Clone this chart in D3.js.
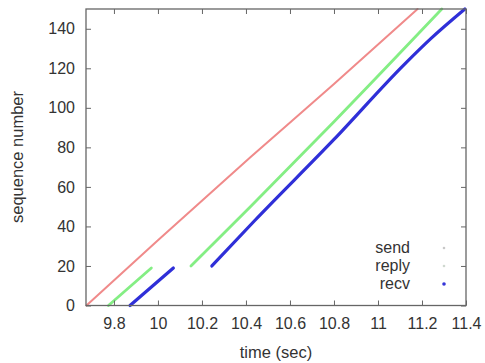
<!DOCTYPE html>
<html><head><meta charset="utf-8">
<script src="https://cdn.jsdelivr.net/npm/d3@7"></script>
<style>body{margin:0;background:#fff}svg{display:block}text{font-family:"Liberation Sans",Arial,sans-serif;fill:#333}</style>
</head><body><svg id="c" width="485" height="363"></svg>
<script>
const xTicks = [9.8, 10, 10.2, 10.4, 10.6, 10.8, 11, 11.2, 11.4];
const xTickLabels = ["9.8", "10", "10.2", "10.4", "10.6", "10.8", "11", "11.2", "11.4"];
const yTicks = [0, 20, 40, 60, 80, 100, 120, 140];
const seriesNames = ["send", "reply", "recv"];
// send
const sendTime = [9.675, 10.0, 10.42, 10.8, 11.18];
const sendSeq  = [0, 33, 75, 112, 150];
// reply (two segments)
const replyTime1 = [9.775, 9.97];
const replySeq1  = [0, 19];
const replyTime2 = [10.15, 10.42, 10.8, 11.29];
const replySeq2  = [20, 50, 93, 150];
// recv (two segments)
const recvTime1 = [9.873, 10.07];
const recvSeq1  = [0, 19];
const recvTime2 = [10.245, 10.44, 10.8, 11.12, 11.24, 11.395];
const recvSeq2  = [20, 43, 84, 122, 135, 150];

const svg = d3.select("#c");
const L = 86, R = 466, T = 9, B = 305.5;
const x = d3.scaleLinear().domain([9.673, 11.4]).range([L, R]);
const y = d3.scaleLinear().domain([0, 150]).range([B, T]);
const frame = "#666";

const zip = (t, s) => t.map((v, i) => [v, s[i]]);
const line = d3.line().x(d => x(d[0])).y(d => y(d[1])).curve(d3.curveMonotoneX);
const segs = [
  {d: zip(sendTime, sendSeq), c: "#f08a8a", w: 2},
  {d: zip(replyTime1, replySeq1), c: "#84ee84", w: 2.8},
  {d: zip(replyTime2, replySeq2), c: "#84ee84", w: 2.8},
  {d: zip(recvTime1, recvSeq1), c: "#2f2fd8", w: 3.2},
  {d: zip(recvTime2, recvSeq2), c: "#2f2fd8", w: 3.2}
];
const g = svg.append("g");
segs.forEach(s => g.append("path").attr("d", line(s.d)).attr("fill", "none")
  .attr("stroke", s.c).attr("stroke-width", s.w).attr("stroke-linecap", "round"));

// axes (inward ticks, mirrored)
const ax = svg.append("g");
const xb = d3.axisBottom(x).tickValues(xTicks).tickFormat((d, i) => xTickLabels[i]).tickSizeInner(-5).tickSizeOuter(0).tickPadding(12);
const xt = d3.axisTop(x).tickValues(xTicks).tickFormat("").tickSizeInner(-5).tickSizeOuter(0);
const yl = d3.axisLeft(y).tickValues(yTicks).tickSizeInner(-5).tickSizeOuter(0).tickPadding(11);
const yr = d3.axisRight(y).tickValues(yTicks).tickFormat("").tickSizeInner(-5).tickSizeOuter(0);
[[xb, `translate(0,${B})`], [xt, `translate(0,${T})`], [yl, `translate(${L},0)`], [yr, `translate(${R},0)`]].forEach(([a, tr]) => {
  const gg = ax.append("g").attr("transform", tr).call(a);
  gg.select(".domain").remove();
  gg.selectAll("line").attr("stroke", frame);
  gg.selectAll("text").attr("font-size", 16).style("fill", "#333").attr("font-family", null);
});
svg.append("rect").attr("x", L).attr("y", T).attr("width", R - L).attr("height", B - T)
  .attr("fill", "none").attr("stroke", frame).attr("stroke-width", 1.3);

svg.append("text").attr("x", 276).attr("y", 358).attr("text-anchor", "middle").attr("font-size", 16.5).text("time (sec)");
svg.append("text").attr("transform", "translate(23,157) rotate(-90)").attr("text-anchor", "middle").attr("font-size", 16.5).text("sequence number");

// legend
const legColors = ["#c8c8c8", "#cfd8cf", "#3535d8"];
const legR = [1.3, 1.3, 1.8];
seriesNames.forEach((n, i) => {
  const yy = 253 + i * 18;
  svg.append("text").attr("x", 410).attr("y", yy).attr("text-anchor", "end").attr("font-size", 16).text(n);
  svg.append("circle").attr("cx", 444).attr("cy", yy - 5).attr("r", legR[i]).attr("fill", legColors[i]);
});
</script></body></html>
